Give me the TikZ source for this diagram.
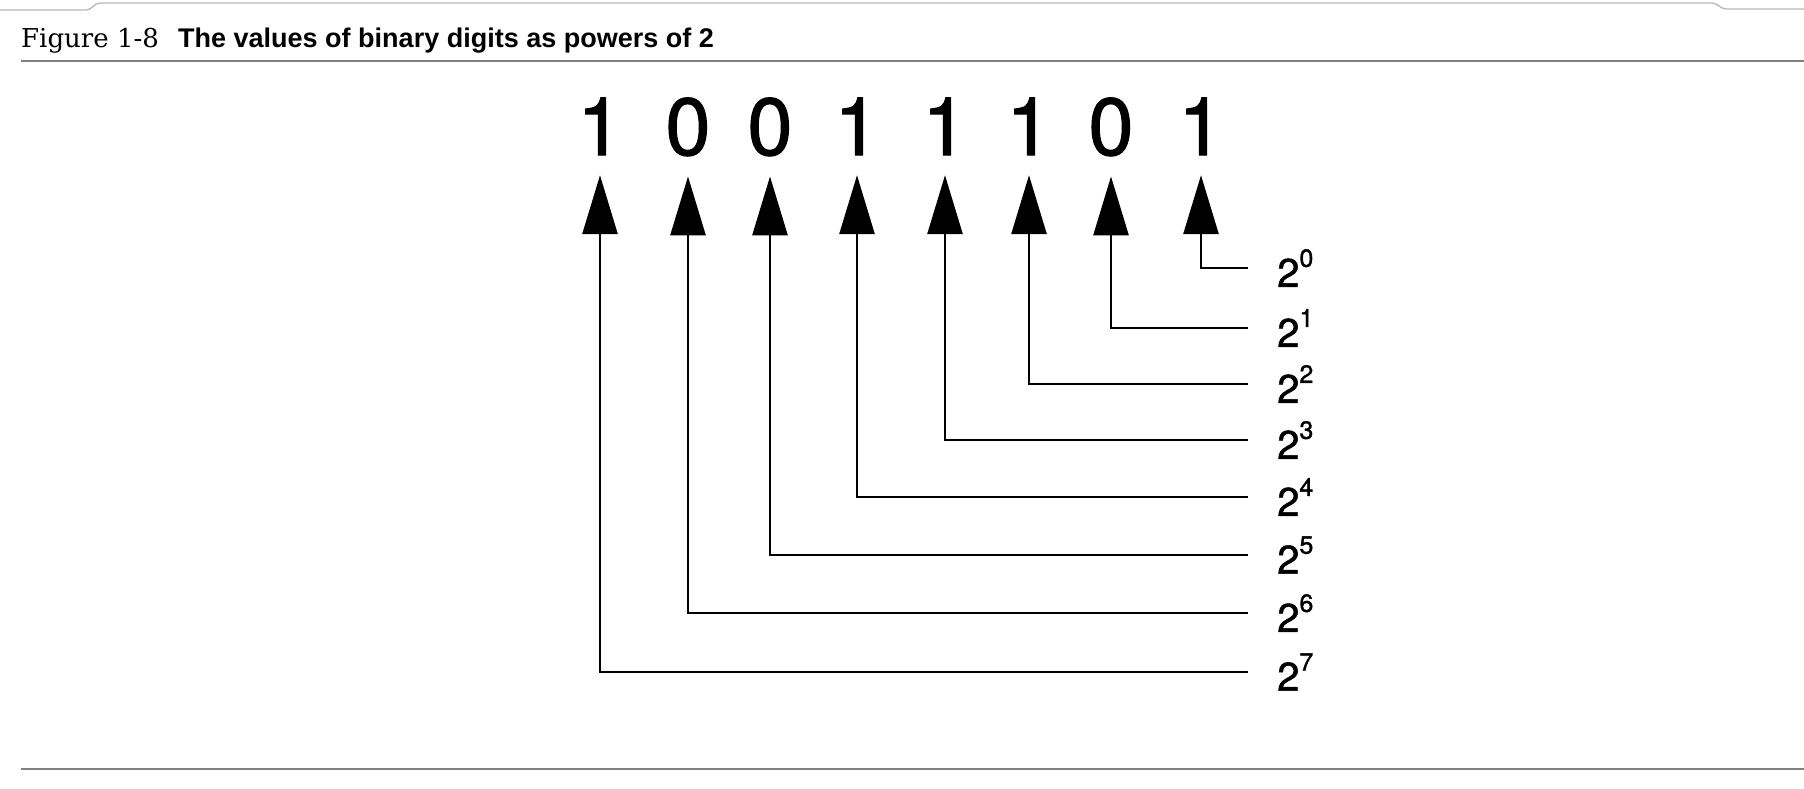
\documentclass[tikz,border=0pt]{standalone}
\usepackage{fontspec}
\setmainfont{TeX Gyre Heros}
\newfontfamily\digitfont[FakeBold=1.3]{TeX Gyre Heros}
\newfontfamily\serifttl{DejaVu Serif}
\newfontfamily\boldttl{Liberation Sans}
\usetikzlibrary{arrows.meta}
\definecolor{rulegray}{RGB}{128,128,128}
\definecolor{edgegray}{RGB}{185,185,185}
\newcommand\pw[1]{2\raisebox{20pt}{\fontsize{25}{25}\selectfont #1}}
\begin{document}
\begin{tikzpicture}[x=1pt,y=-1pt,
  digit/.style={font=\digitfont\fontsize{81}{81}\selectfont, inner sep=0pt, anchor=base},
  pow/.style={font=\digitfont\fontsize{40}{40}\selectfont, inner xsep=29pt, inner ysep=0pt, anchor=west},
  conn/.style={line width=2.8pt, -{Triangle[length=59pt,width=35pt]}, shorten >=20pt},
  rulestyle/.style={line width=1.6pt, draw=rulegray},
  edgestyle/.style={line width=1.4pt, draw=edgegray}]
\useasboundingbox[fill=white] (0,0) rectangle (1804,788);
% browser card edges
\draw[edgestyle] (0,10) -- (86,10) to[out=0,in=180] (100,3) -- (1712,3) to[out=0,in=180] (1726,9) -- (1804,9);
% title
\node[anchor=base west, inner sep=0pt] (fig) at (21,47) {\serifttl\fontsize{26}{26}\selectfont Figure 1-8};
\node[anchor=base west, inner sep=0pt] (ttl) at (178,47) {\boldttl\bfseries\fontsize{27}{27}\selectfont The values of binary digits as powers of 2};
\draw[rulestyle] (21,61) -- (1804,61);
\draw[rulestyle] (21,769) -- (1804,769);
% digits
\node[digit] (d7) at (600,155) {1};
\node[digit] (d6) at (688,155) {0};
\node[digit] (d5) at (770,155) {0};
\node[digit] (d4) at (857,155) {1};
\node[digit] (d3) at (945,155) {1};
\node[digit] (d2) at (1029,155) {1};
\node[digit] (d1) at (1111,155) {0};
\node[digit] (d0) at (1201,155) {1};
% powers
\node[pow] (p0) at (1248,268) {\pw{0}};
\node[pow] (p1) at (1248,328) {\pw{1}};
\node[pow] (p2) at (1248,384) {\pw{2}};
\node[pow] (p3) at (1248,440) {\pw{3}};
\node[pow] (p4) at (1248,497) {\pw{4}};
\node[pow] (p5) at (1248,555) {\pw{5}};
\node[pow] (p6) at (1248,613) {\pw{6}};
\node[pow] (p7) at (1248,672) {\pw{7}};
% connectors
\foreach \k in {0,...,7} {\draw[conn] (p\k.west) -| (d\k.south);}
\end{tikzpicture}
\end{document}
